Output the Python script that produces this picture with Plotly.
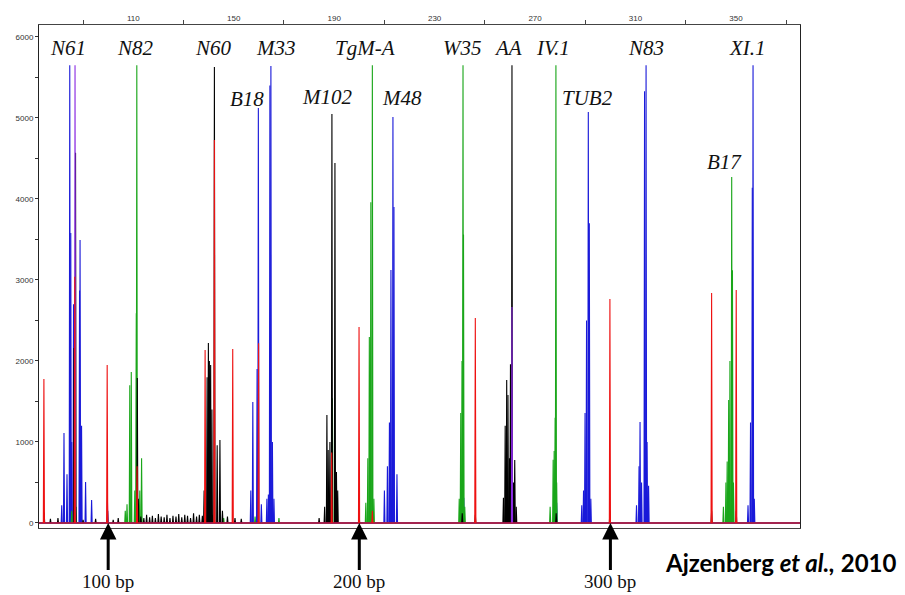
import plotly.graph_objects as go

# ---------------- data ----------------
blue_pos = [81.5, 82.4, 83.6, 84.7, 85.1, 85.5, 86.2, 88.6, 88.8, 89.4, 91.0, 93.4,
            156.8, 157.6, 159.3, 159.8, 161.0, 163.2, 163.8, 164.4, 164.8, 165.4, 166.0,
            210.0, 211.2, 212.0, 212.6, 213.4, 213.8, 215.0, 241.6, 278.6,
            288.6, 289.3, 289.9, 290.5, 291.2, 291.6, 292.2,
            310.4, 311.4, 311.8, 312.4, 313.6, 314.2, 314.6, 315.2,
            354.8, 355.8, 356.5, 356.8, 357.3]
blue_h = [220, 1110, 600, 5650, 3580, 1000, 2700, 2870, 3494, 1200, 506, 284,
          400, 1494, 1900, 5123, 230, 300, 350, 5400, 5642, 1000, 300,
          400, 700, 1240, 3123, 5012, 3900, 600, 310, 250,
          220, 400, 1358, 2500, 5074, 3700, 300,
          220, 700, 1247, 500, 5330, 5650, 1000, 460,
          220, 1240, 4140, 5650, 300]

green_pos = [85.5, 87.2, 106.8, 107.5, 108.6, 109.2, 110.6, 111.2, 111.4, 112.6, 113.3,
             141.5, 146.0, 158.5, 168.0, 189.3, 191.0,
             202.6, 203.4, 204.0, 204.6, 205.2, 205.8,
             239.8, 240.4, 240.9, 241.3, 241.5, 242.0, 260.4,
             276.0, 277.2, 277.6, 278.0, 278.3, 278.6,
             345.0, 346.0, 346.5, 347.1, 347.6, 348.3, 348.6, 349.0]
green_h = [150, 200, 150, 230, 1700, 1864, 400, 2590, 5650, 400, 800,
           100, 60, 80, 60, 1540, 250,
           250, 800, 2296, 3960, 5650, 300,
           300, 1358, 2000, 5650, 3560, 200, 1000,
           200, 780, 890, 1300, 5650, 500,
           200, 500, 760, 1519, 2000, 4272, 3120, 500]

black_pos = [74.5, 77.0, 80.0, 86.4, 87.0, 90.0, 95.0, 99.8, 102.0, 104.0, 111.6, 112.0,
             113.0, 114.2, 115.3, 116.5, 117.6, 118.8, 120.0, 121.1, 122.3, 123.4, 124.6,
             125.8, 127.0, 128.1, 129.3, 130.5, 131.6, 132.8, 134.0, 135.2, 136.3, 137.5,
             138.2, 139.4, 139.9, 140.3, 140.8, 141.3, 142.3, 143.4, 144.5, 145.5,
             147.5, 150.5, 153.0, 184.0, 186.2, 187.1, 187.6, 188.3, 189.1, 190.3, 190.9,
             191.4, 199.9, 241.0, 246.2, 257.4, 258.1, 258.7, 259.2, 259.8, 260.2, 260.8,
             261.4, 261.9, 262.5, 278.4, 299.8, 340.3, 350.1]
black_h = [130, 50, 60, 2160, 4570, 40, 50, 150, 40, 60, 1790, 300,
           80, 60, 100, 70, 90, 60, 110, 80, 70, 100, 60,
           90, 80, 110, 70, 100, 90, 60, 120, 80, 100, 90,
           400, 1800, 2222, 2000, 1950, 1400, 5630, 960, 1025, 150,
           80, 60, 50, 60, 200, 1333, 900, 1000, 5049, 4444, 630,
           400, 150, 120, 100, 310, 1200, 1765, 1580, 800, 1960, 5650,
           500, 778, 200, 120, 150, 150, 150]

red_pos = [74.4, 86.7, 99.6, 111.5, 138.6, 142.3, 149.6, 159.9, 189.0, 199.9,
           205.2, 246.2, 299.8, 340.3, 350.1]
red_h = [1778, 3040, 1950, 700, 2136, 4728, 2148, 2220, 870, 2420,
         150, 2530, 2765, 2840, 2877]

purple_pos = [86.8, 99.7, 260.8]
purple_h = [5650, 270, 2667]

marker_names = ["N61", "N82", "N60", "M33", "B18", "M102", "TgM-A", "M48",
                "W35", "AA", "IV.1", "TUB2", "N83", "XI.1", "B17"]
marker_x = [84.0, 110.7, 141.8, 166.8, 155.3, 187.1, 202.2, 217.0,
            240.9, 259.2, 277.1, 291.0, 314.1, 354.7, 345.6]
marker_y = [5864, 5864, 5864, 5864, 5235, 5259, 5864, 5247,
            5864, 5864, 5864, 5247, 5864, 5864, 4457]

ladder_bp = [100, 200, 300]
ladder_labels = ["100 bp", "200 bp", "300 bp"]

top_tick_vals = [110, 150, 190, 230, 270, 310, 350]
top_minor_vals = [90, 130, 170, 210, 250, 290, 330, 370]
y_tick_vals = [0, 1000, 2000, 3000, 4000, 5000, 6000]
y_minor_vals = [500, 1500, 2500, 3500, 4500, 5500]

X_RANGE = [72.45, 375.5]
Y_RANGE = [-62, 6148]
HALF_W = 0.22

assert len(blue_pos) == len(blue_h)
assert len(green_pos) == len(green_h)
assert len(black_pos) == len(black_h)
assert len(red_pos) == len(red_h)


def channel(pos, h):
    xs, ys = [X_RANGE[0], X_RANGE[1], None], [0, 0, None]
    for p, v in zip(pos, h):
        xs += [p - HALF_W, p, p + HALF_W, None]
        ys += [0, v, 0, None]
    return xs, ys


fig = go.Figure()
for pos, h, col in [(blue_pos, blue_h, "#1a1ad9"),
                    (green_pos, green_h, "#1aa61a"),
                    (black_pos, black_h, "#000000"),
                    (purple_pos, purple_h, "#8a2be2"),
                    (red_pos, red_h, "#ee1111")]:
    xs, ys = channel(pos, h)
    fig.add_trace(go.Scatter(x=xs, y=ys, mode="lines",
                             line=dict(color=col, width=1.1),
                             hoverinfo="skip", showlegend=False))

for name, x, y in zip(marker_names, marker_x, marker_y):
    fig.add_annotation(x=x, y=y, xref="x", yref="y", text="<i>%s</i>" % name,
                       showarrow=False,
                       font=dict(family="Liberation Serif", size=21, color="#111"))

for bp, lab in zip(ladder_bp, ladder_labels):
    fig.add_annotation(x=bp, y=0, xref="x", yref="y", text=lab,
                       showarrow=True, ax=0, ay=59, arrowhead=2, arrowsize=1.1,
                       arrowwidth=3, arrowcolor="#000", standoff=0,
                       font=dict(family="Liberation Serif", size=19, color="#111"))

fig.add_annotation(x=1.1288, y=-0.0676, xref="paper", yref="paper",
                   xanchor="right", yanchor="middle", showarrow=False,
                   text="<b>Ajzenberg <i>et al.,</i> 2010</b>",
                   font=dict(family="Lato", size=24, color="#000"))

fig.update_layout(
    width=897, height=587,
    margin=dict(l=31, r=105, t=17, b=67, autoexpand=False),
    paper_bgcolor="white", plot_bgcolor="white",
    xaxis=dict(range=X_RANGE, side="top", showgrid=False, zeroline=False,
               automargin=False,
               showline=True, linecolor="#444", linewidth=1, mirror=True,
               tickvals=top_tick_vals, ticks="",
               tickfont=dict(family="Arial", size=8, color="#333"),
               minor=dict(tickvals=top_minor_vals, ticks="outside",
                          ticklen=4, tickcolor="#444")),
    yaxis=dict(range=Y_RANGE, showgrid=False, zeroline=False,
               automargin=False,
               showline=True, linecolor="#222", linewidth=1, mirror=True,
               tickvals=y_tick_vals, ticks="outside", ticklen=3,
               tickcolor="#333",
               tickfont=dict(family="Arial", size=8, color="#333"),
               minor=dict(tickvals=y_minor_vals, ticks="outside",
                          ticklen=3, tickcolor="#333")),
)

fig.write_html("out.html")
